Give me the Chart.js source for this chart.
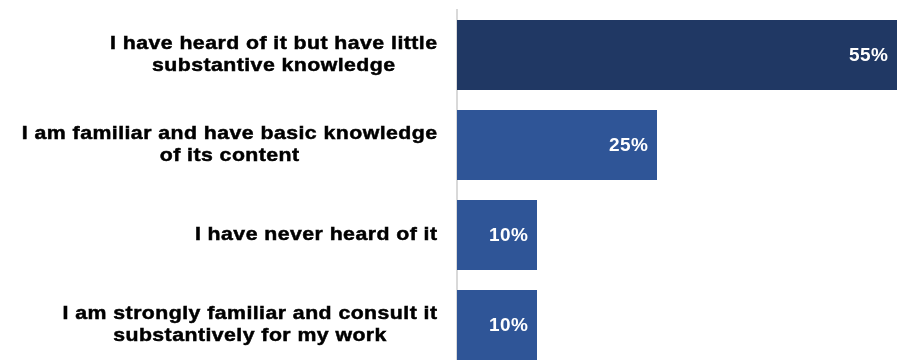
<!DOCTYPE html>
<html>
<head>
<meta charset="utf-8">
<title>Awareness</title>
<script src="https://cdn.jsdelivr.net/npm/chart.js@4.4.1/dist/chart.umd.min.js"></script>
<style>
  html, body { margin: 0; padding: 0; background: #fff; overflow: hidden; }
  #wrap { width: 897px; height: 370px; }
</style>
</head>
<body>
<div id="wrap"><canvas id="awareChart" width="897" height="370"></canvas></div>
<script>
const categories = [
  ["I have heard of it but have little", "substantive knowledge"],
  ["I am familiar and have basic knowledge", "of its content"],
  ["I have never heard of it"],
  ["I am strongly familiar and consult it", "substantively for my work"]
];
const shares = [55, 25, 10, 10];
const barColors = ["#203864", "#2f5597", "#2f5597", "#2f5597"];

const FONT = "'Liberation Sans', Arial, sans-serif";

// category text: each block right-aligned next to the axis, its lines centred.
// glyphs are drawn slightly widened and thickened, like the heavy bold face of the deck.
const categoryText = {
  id: "categoryText",
  afterDraw(chart) {
    const ctx = chart.ctx;
    const yScale = chart.scales.y;
    const right = 437;
    const lineH = 22;
    const sx = 1.12;
    const ls = 0.4;
    ctx.save();
    ctx.font = "bold 19px " + FONT;
    ctx.letterSpacing = ls + "px";
    ctx.fillStyle = "#000";
    ctx.strokeStyle = "#000";
    ctx.lineWidth = 0.5;
    ctx.textAlign = "left";
    ctx.textBaseline = "middle";
    categories.forEach((lines, i) => {
      const widths = lines.map(l => (ctx.measureText(l).width - ls) * sx);
      const w = Math.max(...widths);
      const cx = right - w / 2;
      const cy = yScale.getPixelForValue(i);
      const top = cy - (lines.length - 1) * lineH / 2;
      lines.forEach((l, j) => {
        ctx.save();
        ctx.translate(cx - widths[j] / 2, top + j * lineH);
        ctx.scale(sx, 1);
        ctx.fillText(l, 0, 0);
        ctx.strokeText(l, 0, 0);
        ctx.restore();
      });
    });
    ctx.restore();
  }
};

// percentage labels inside the end of each bar
const valueText = {
  id: "valueText",
  afterDatasetsDraw(chart) {
    const ctx = chart.ctx;
    const meta = chart.getDatasetMeta(0);
    ctx.save();
    ctx.font = "bold 19px " + FONT;
    ctx.letterSpacing = "0.5px";
    ctx.fillStyle = "#fff";
    ctx.textAlign = "left";
    ctx.textBaseline = "middle";
    meta.data.forEach((bar, i) => {
      const txt = shares[i] + "%";
      const w = ctx.measureText(txt).width - 0.5;
      ctx.fillText(txt, bar.x - 9 - w, bar.y + 1);
    });
    ctx.restore();
  }
};

new Chart(document.getElementById("awareChart"), {
  type: "bar",
  data: {
    labels: categories,
    datasets: [{
      data: shares,
      backgroundColor: barColors,
      borderWidth: 0,
      categoryPercentage: 1,
      barPercentage: 70 / 90
    }]
  },
  options: {
    indexAxis: "y",
    responsive: false,
    animation: false,
    layout: { padding: { left: 457, top: 10, right: 0, bottom: 0 } },
    plugins: {
      legend: { display: false },
      tooltip: { enabled: false }
    },
    scales: {
      x: { display: false, min: 0, max: 55 },
      y: {
        grid: { display: false, drawTicks: false },
        ticks: { display: false },
        border: { display: true, color: "#d9d9d9", width: 2 }
      }
    }
  },
  plugins: [categoryText, valueText]
});
</script>
</body>
</html>
